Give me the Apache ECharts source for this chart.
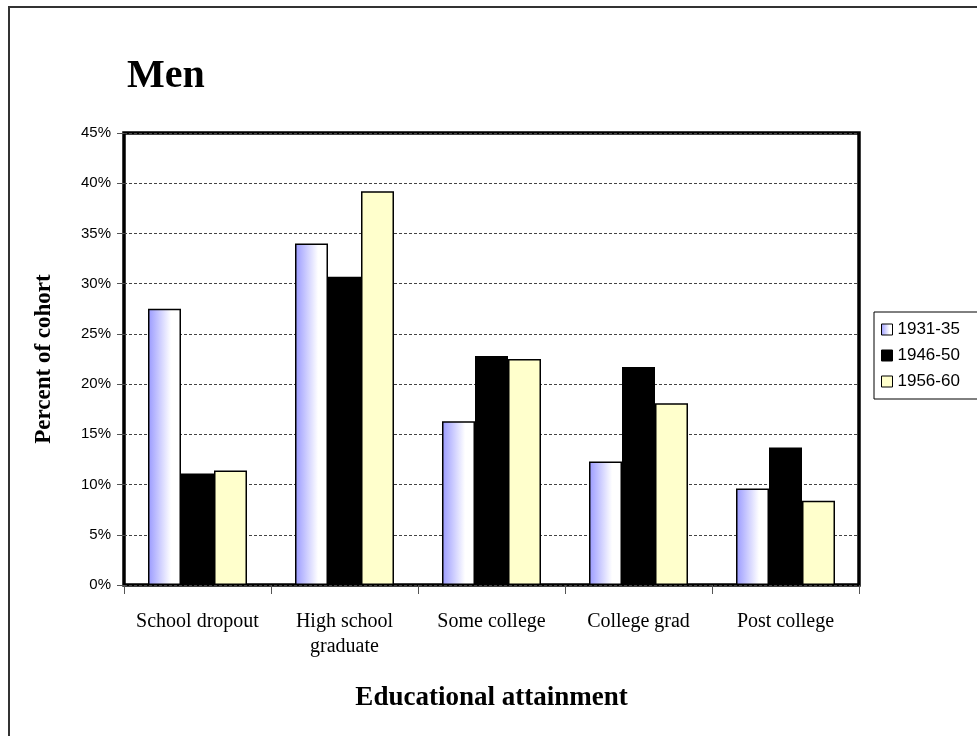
<!DOCTYPE html>
<html>
<head>
<meta charset="utf-8">
<script src="https://cdn.jsdelivr.net/npm/echarts@6/dist/echarts.min.js"></script>
<style>
  html, body { margin: 0; padding: 0; background: #fff; }
  #chart { width: 977px; height: 736px; }
</style>
</head>
<body>
<div id="chart"></div>
<script>
// Educational attainment of men by birth cohort (percent of cohort)
var categories = ['School dropout', 'High school\ngraduate', 'Some college', 'College grad', 'Post college'];
var cohort1931 = [27.5, 34.0, 16.3, 12.3, 9.6];
var cohort1946 = [11.1, 30.7, 22.8, 21.7, 13.7];
var cohort1956 = [11.4, 39.2, 22.5, 18.1, 8.4];
var seriesNames = ['1931-35', '1946-50', '1956-60'];

var serif = '"Liberation Serif", "Times New Roman", serif';
var sans = '"Liberation Sans", Arial, sans-serif';

var chart = echarts.init(document.getElementById('chart'));

var blueFade = new echarts.graphic.LinearGradient(0, 0, 1, 0, [
  { offset: 0, color: '#9999ff' },
  { offset: 0.7, color: '#ffffff' },
  { offset: 1, color: '#ffffff' }
]);

function barSeries(name, data, color) {
  return {
    name: name,
    type: 'bar',
    data: data,
    barWidth: 33,
    barGap: '0%',
    itemStyle: { color: color, borderColor: '#000', borderWidth: 1.5 }
  };
}

chart.setOption({
  animation: false,
  backgroundColor: '#fff',
  title: {
    text: 'Men',
    left: 122,
    top: 52,
    textStyle: { fontFamily: serif, fontSize: 40, fontWeight: 'bold', color: '#000' }
  },
  legend: {
    orient: 'vertical',
    left: 874,
    top: 312,
    padding: [9, 40, 9, 7],
    itemWidth: 11,
    itemHeight: 11,
    itemGap: 9,
    icon: 'rect',
    borderColor: '#000',
    borderWidth: 1,
    itemStyle: { borderColor: '#000', borderWidth: 1 },
    textStyle: { fontFamily: sans, fontSize: 17, color: '#000' },
    data: seriesNames
  },
  grid: {
    left: 124,
    right: 118,
    top: 133,
    bottom: 151,
    show: true,
    borderWidth: 3.5,
    borderColor: '#000',
    backgroundColor: '#fff'
  },
  xAxis: {
    type: 'category',
    data: categories,
    axisLine: { show: false },
    axisTick: { show: true, length: 9, lineStyle: { color: '#555', width: 1 } },
    axisLabel: {
      fontFamily: serif,
      fontSize: 20,
      color: '#000',
      margin: 24,
      lineHeight: 25,
      interval: 0
    },
    name: 'Educational attainment',
    nameLocation: 'middle',
    nameGap: 100,
    nameTextStyle: { fontFamily: serif, fontSize: 27, fontWeight: 'bold', color: '#000' }
  },
  yAxis: {
    type: 'value',
    min: 0,
    max: 45,
    interval: 5,
    axisLine: { show: false },
    axisTick: { show: true, length: 7, lineStyle: { color: '#555', width: 1 } },
    axisLabel: {
      formatter: '{value}%',
      fontFamily: sans,
      fontSize: 15,
      color: '#000',
      margin: 13
    },
    splitLine: { show: true, lineStyle: { color: '#444', width: 1, type: [3, 2] } },
    name: 'Percent of cohort',
    nameLocation: 'middle',
    nameRotate: 90,
    nameGap: 68,
    nameTextStyle: { fontFamily: serif, fontSize: 23, fontWeight: 'bold', color: '#000' }
  },
  graphic: [{
    type: 'rect',
    silent: true,
    shape: { x: 9, y: 7, width: 1000, height: 1000 },
    style: { fill: 'none', stroke: '#333', lineWidth: 2 },
    z: 100
  }],
  series: [
    barSeries(seriesNames[0], cohort1931, blueFade),
    barSeries(seriesNames[1], cohort1946, '#000000'),
    barSeries(seriesNames[2], cohort1956, '#ffffcc')
  ]
});
</script>
</body>
</html>
